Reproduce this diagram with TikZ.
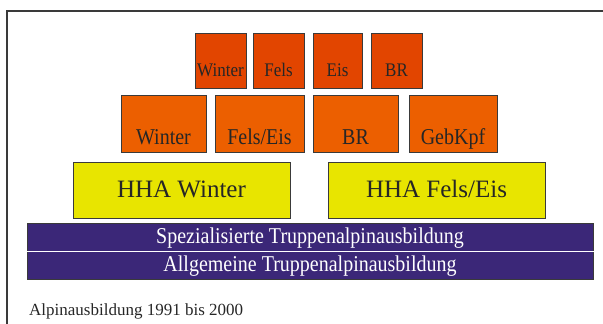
\documentclass[tikz,border=0pt]{standalone}
\usepackage{graphicx}
\usepackage{fontspec}
\setmainfont{Liberation Serif}
\definecolor{edge}{HTML}{3A3A3A}
\definecolor{topc}{HTML}{E24500}
\definecolor{midc}{HTML}{EC5F00}
\definecolor{yelc}{HTML}{E8E500}
\definecolor{purc}{HTML}{3B2778}
\definecolor{txt}{HTML}{262626}
\newcommand{\vstr}[1]{\scalebox{1}[1.13]{#1}}
\begin{document}
\begin{tikzpicture}[x=1pt,y=-1pt,
  box/.style={draw=edge, line width=1.3pt, inner sep=0pt, anchor=north west},
  lbl/.style={inner sep=0pt, anchor=base, text=txt},
  ftop/.style={font=\fontsize{17}{17}\selectfont},
  fmid/.style={font=\fontsize{20}{20}\selectfont},
  fyel/.style={font=\fontsize{25}{25}\selectfont},
  fpur/.style={font=\fontsize{20}{20}\selectfont, text=white},
  fcap/.style={font=\fontsize{17}{17}\selectfont, anchor=base west}]
\useasboundingbox (0,0) rectangle (603,324);
\draw[edge, line width=1.2pt] (603,11) -- (7,11) -- (7,324);
% top row
\node[box, fill=topc, minimum width=51pt, minimum height=55pt] (t1) at (195,33) {};
\node[box, fill=topc, minimum width=51pt, minimum height=55pt] (t2) at (253,33) {};
\node[box, fill=topc, minimum width=49pt, minimum height=55pt] (t3) at (313,33) {};
\node[box, fill=topc, minimum width=51pt, minimum height=55pt] (t4) at (371,33) {};
\node[lbl, ftop] (t1l) at (220.5,76.5) {\vstr{Winter}};
\node[lbl, ftop] (t2l) at (278.5,76.5) {\vstr{Fels}};
\node[lbl, ftop] (t3l) at (337.5,76.5) {\vstr{Eis}};
\node[lbl, ftop] (t4l) at (396.5,76.5) {\vstr{BR}};
% second row
\node[box, fill=midc, minimum width=85pt, minimum height=57pt] (m1) at (121,95) {};
\node[box, fill=midc, minimum width=89pt, minimum height=57pt] (m2) at (215,95) {};
\node[box, fill=midc, minimum width=85pt, minimum height=57pt] (m3) at (313,95) {};
\node[box, fill=midc, minimum width=88pt, minimum height=57pt] (m4) at (409,95) {};
\node[lbl, fmid] (m1l) at (163.5,144) {\vstr{Winter}};
\node[lbl, fmid] (m2l) at (259.5,144) {\vstr{Fels/Eis}};
\node[lbl, fmid] (m3l) at (355.5,144) {\vstr{BR}};
\node[lbl, fmid] (m4l) at (453,144) {\vstr{GebKpf}};
% yellow row
\node[box, fill=yelc, minimum width=217pt, minimum height=56pt] (y1) at (73,161.5) {};
\node[box, fill=yelc, minimum width=217pt, minimum height=56pt] (y2) at (328,161.5) {};
\node[lbl, fyel] (y1l) at (181.5,197) {HHA Winter};
\node[lbl, fyel] (y2l) at (436.5,197) {HHA Fels/Eis};
% purple bar
\node[box, fill=purc, minimum width=566pt, minimum height=55.5pt] (p) at (27,223) {};
\draw[white, line width=1.6pt] (p.west |- 0,251.5) -- (p.east |- 0,251.5);
\node[lbl, fpur] (p1l) at (310,243) {\vstr{Spezialisierte Truppenalpinausbildung}};
\node[lbl, fpur] (p2l) at (310,271) {\vstr{Allgemeine Truppenalpinausbildung}};
% caption
\node[lbl, fcap] (cap) at (29,315) {Alpinausbildung 1991 bis 2000};
\end{tikzpicture}
\end{document}
